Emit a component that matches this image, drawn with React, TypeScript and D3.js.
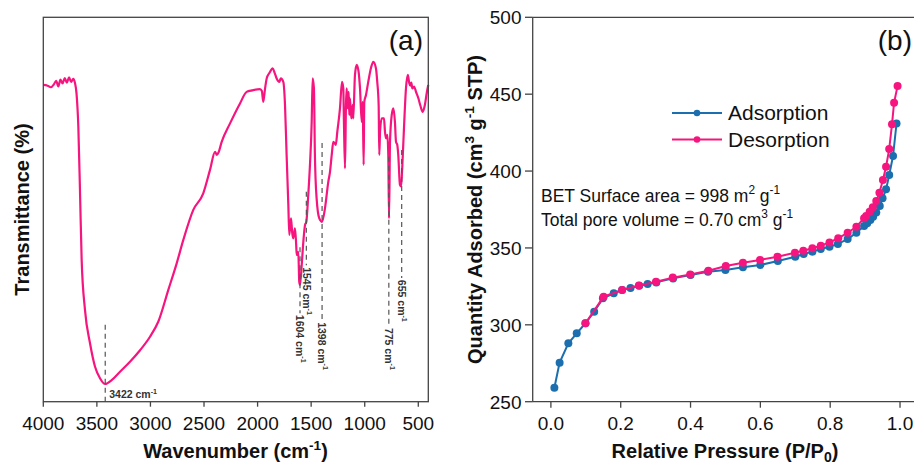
import React from "react";
import * as d3 from "d3";

// ---------- Panel (a): FTIR ----------
const ftirWavenumber = [
  4000, 3960, 3930, 3900, 3880, 3860, 3840, 3820, 3800, 3780, 3760, 3740, 3720, 3705, 3690, 3673, 3657, 3642, 3611, 3564,
  3517, 3471, 3422, 3362, 3284, 3191, 3097, 3004, 2927, 2833, 2755, 2693, 2600, 2507, 2444, 2397, 2380, 2365, 2335, 2257,
  2164, 2102, 2050, 1978, 1960, 1947, 1930, 1915, 1890, 1859, 1840, 1822, 1797, 1784, 1760, 1744, 1729, 1713, 1704, 1688,
  1677, 1667, 1651, 1640, 1635, 1620, 1611, 1604, 1588, 1573, 1557, 1545, 1527, 1511, 1495, 1486, 1474, 1465, 1449, 1424,
  1398, 1371, 1340, 1324, 1308, 1293, 1280, 1270, 1256, 1231, 1212, 1200, 1194, 1184, 1175, 1168, 1159, 1150, 1144, 1138,
  1125, 1112, 1107, 1091, 1075, 1057, 1044, 1028, 1019, 1010, 1004, 988, 967, 940, 920, 895, 883, 870, 864, 857,
  842, 820, 811, 801, 789, 780, 773, 764, 748, 733, 718, 708, 696, 687, 671, 660, 646, 631, 615, 598,
  585, 575, 565, 555, 540, 520, 500, 480, 459, 440, 420, 407,
];
const ftirTransmittance = [
  82.4, 82.2, 81.8, 82.6, 83.5, 82.0, 83.8, 82.8, 84.2, 83.0, 84.4, 83.2, 84.0, 83.0, 80.2, 71.5, 54.2, 36.9, 23.9, 15.2,
  9.1, 6.1, 4.6, 5.6, 7.8, 10.4, 13.4, 16.9, 20.8, 29.1, 36.0, 42.1, 49.9, 54.2, 60.3, 65.0, 64.2, 64.8, 67.6, 72.4,
  77.6, 80.6, 81.0, 81.3, 80.8, 78.0, 81.5, 84.1, 85.5, 86.7, 85.5, 84.1, 83.2, 84.1, 83.2, 77.2, 64.2, 51.2, 43.4, 47.7,
  44.0, 42.5, 45.1, 41.0, 38.2, 39.0, 31.2, 30.4, 35.6, 41.6, 46.0, 46.8, 53.8, 61.6, 72.8, 84.1, 81.5, 64.2, 52.9, 47.7,
  46.8, 50.3, 57.2, 59.8, 64.2, 67.6, 67.2, 66.8, 70.2, 76.3, 83.2, 81.5, 72.8, 60.7, 77.2, 81.5, 76.3, 80.6, 74.6, 78.9,
  73.7, 77.2, 73.7, 85.0, 87.6, 85.8, 81.5, 72.8, 78.0, 61.6, 78.0, 79.8, 83.2, 87.0, 88.4, 86.7, 83.2, 77.2, 64.2, 70.2,
  73.7, 73.7, 70.2, 68.5, 69.4, 64.2, 47.7, 67.6, 74.6, 76.3, 72.8, 67.6, 66.8, 64.2, 56.4, 56.0, 63.3, 72.8, 81.5, 85.0,
  83.0, 82.2, 83.0, 81.5, 82.0, 80.5, 79.0, 77.0, 75.4, 77.0, 80.5, 82.4,
];
const ftirTicks = [4000, 3500, 3000, 2500, 2000, 1500, 1000, 500];

const peakWavenumber = [3422, 1604, 1545, 1398, 775, 655];
const peakLabel = ["3422", "1604", "1545", "1398", "775", "655"];
const peakDashTop = [20, 40.2, 54.6, 67.3, 63.7, 65.5];
const peakDashBottom = [0, 23, 35.5, 21.2, 19.7, 32.2];
const peakLabelStart = [0, 22.6, 35.0, 20.7, 19.2, 31.7];

// ---------- Panel (b): N2 isotherm ----------
const adsP = [
  0.010, 0.025, 0.050, 0.074, 0.099, 0.124, 0.149, 0.180, 0.204, 0.228, 0.253, 0.277, 0.302, 0.350, 0.400, 0.450, 0.500,
  0.550, 0.600, 0.650, 0.700, 0.724, 0.749, 0.773, 0.798, 0.822, 0.850, 0.875, 0.897, 0.906, 0.915, 0.923, 0.932, 0.942,
  0.950, 0.960, 0.969, 0.980, 0.990,
];
const adsQ = [
  259.1, 275.4, 288.0, 294.5, 301.0, 308.5, 317.2, 320.5, 322.6, 324.0, 325.4, 326.5, 327.6, 330.2, 332.4, 334.5, 335.7,
  337.4, 338.9, 341.5, 344.3, 346.1, 347.6, 349.3, 350.8, 352.6, 355.8, 359.9, 364.3, 366.0, 368.2, 370.3, 373.0, 377.3,
  382.3, 388.1, 397.4, 409.8, 431.0,
];
const desP = [
  0.993, 0.983, 0.977, 0.969, 0.960, 0.951, 0.941, 0.932, 0.922, 0.913, 0.903, 0.897, 0.875, 0.850, 0.823, 0.798, 0.773,
  0.749, 0.723, 0.699, 0.649, 0.599, 0.550, 0.501, 0.451, 0.399, 0.349, 0.301, 0.252, 0.204, 0.151, 0.099,
];
const desQ = [
  455.3, 444.5, 430.4, 414.3, 402.8, 394.2, 385.9, 380.5, 376.4, 373.5, 370.8, 369.3, 363.8, 359.9, 356.3, 353.6, 351.5,
  349.8, 348.2, 346.9, 344.3, 342.2, 340.4, 338.3, 335.2, 332.8, 330.7, 328.0, 325.6, 322.6, 318.3, 301.0,
];
const pTicks = [0.0, 0.2, 0.4, 0.6, 0.8, 1.0];
const qTicks = [250, 300, 350, 400, 450, 500];
const seriesNames = ["Adsorption", "Desorption"];

const FONT = "'Liberation Sans', Arial, Helvetica, sans-serif";
const PINK = "#f6157f";
const BLUE = "#1c6fae";
const AXIS = "#444";

export default function App() {
  const top = 17.3;
  const bottom = 401.7;

  // panel a scales
  const xa = d3.scaleLinear().domain([4000, 406.6]).range([43.3, 428.3]);
  const ya = d3.scaleLinear().domain([0, 100]).range([bottom, top]);
  const ftirLine = d3
    .line<number>()
    .x((_, i) => xa(ftirWavenumber[i]))
    .y((d) => ya(d))
    .curve(d3.curveMonotoneX);

  // panel b scales
  const xb = d3.scaleLinear().domain([-0.0521, 1.0515]).range([532.7, 918]);
  const yb = d3.scaleLinear().domain([250, 500]).range([bottom, top]);
  const adsLine = d3
    .line<number>()
    .x((_, i) => xb(adsP[i]))
    .y((d) => yb(d));
  const desLine = d3
    .line<number>()
    .x((_, i) => xb(desP[i]))
    .y((d) => yb(d));

  const sup = (s: string, size: number) => (
    <tspan dy={-size * 0.42} fontSize={size * 0.68}>
      {s}
    </tspan>
  );
  const after = (size: number) => size * 0.42;

  return (
    <svg
      width={914}
      height={464}
      style={{ position: "absolute", left: 0, top: 0, display: "block", background: "#fff" }}
      fontFamily={FONT}
    >
      <rect x={0} y={0} width={914} height={464} fill="#fff" />

      {/* ---------------- Panel (a) ---------------- */}
      <path d={ftirLine(ftirTransmittance) || ""} fill="none" stroke={PINK} strokeWidth={2.2} strokeLinejoin="round" />

      {/* peak dashes */}
      {peakWavenumber.map((w, i) => (
        <line
          key={"pd" + i}
          x1={xa(w)}
          x2={xa(w)}
          y1={ya(peakDashTop[i])}
          y2={ya(peakDashBottom[i])}
          stroke="#555"
          strokeWidth={1.2}
          strokeDasharray="5,4"
        />
      ))}
      {/* peak labels */}
      {peakWavenumber.map((w, i) =>
        i === 0 ? (
          <text key={"pl" + i} x={xa(w) + 4} y={398} fontSize={10.5} fontWeight="bold" fill="#333">
            {peakLabel[i]} cm
            {sup("-1", 10.5)}
          </text>
        ) : (
          <text
            key={"pl" + i}
            transform={`translate(${xa(w)},${ya(peakLabelStart[i])}) rotate(90)`}
            x={0}
            y={0}
            dy="0.35em"
            fontSize={10.5}
            fontWeight="bold"
            fill="#333"
          >
            {peakLabel[i]} cm
            {sup("-1", 10.5)}
          </text>
        )
      )}

      {/* frame */}
      <rect x={43.3} y={top} width={428.3 - 43.3} height={bottom - top} fill="none" stroke={AXIS} strokeWidth={1.3} />
      {ftirTicks.map((t) => (
        <g key={"xt" + t}>
          <line x1={xa(t)} x2={xa(t)} y1={bottom} y2={bottom + 5} stroke={AXIS} strokeWidth={1.3} />
          <text x={xa(t)} y={429.5} fontSize={19} textAnchor="middle" fill="#111">
            {t}
          </text>
        </g>
      ))}
      <text x={235.5} y={458} fontSize={20} fontWeight="bold" textAnchor="middle" fill="#111">
        Wavenumber (cm{sup("-1", 20)}
        <tspan dy={after(20)}>)</tspan>
      </text>
      <text
        transform={`translate(29,${(top + bottom) / 2}) rotate(-90)`}
        fontSize={20}
        fontWeight="bold"
        textAnchor="middle"
        fill="#111"
      >
        Transmittance (%)
      </text>
      <text x={423} y={50} fontSize={28} textAnchor="end" fill="#111">
        (a)
      </text>

      {/* ---------------- Panel (b) ---------------- */}
      <path d={adsLine(adsQ) || ""} fill="none" stroke={BLUE} strokeWidth={2} />
      {adsQ.map((q, i) => (
        <circle key={"ac" + i} cx={xb(adsP[i])} cy={yb(q)} r={4} fill={BLUE} />
      ))}
      <path d={desLine(desQ) || ""} fill="none" stroke={PINK} strokeWidth={2} />
      {desQ.map((q, i) => (
        <circle key={"dc" + i} cx={xb(desP[i])} cy={yb(q)} r={4} fill={PINK} />
      ))}

      {/* axes */}
      <line x1={532.7} x2={914} y1={top} y2={top} stroke={AXIS} strokeWidth={1.3} />
      <line x1={532.7} x2={914} y1={bottom} y2={bottom} stroke={AXIS} strokeWidth={1.3} />
      <line x1={532.7} x2={532.7} y1={top} y2={bottom} stroke={AXIS} strokeWidth={1.3} />
      {qTicks.map((t) => (
        <g key={"yt" + t}>
          <line x1={525} x2={532.7} y1={yb(t)} y2={yb(t)} stroke={AXIS} strokeWidth={1.3} />
          <text x={521.5} y={yb(t)} dy="0.36em" fontSize={19} textAnchor="end" fill="#111">
            {t}
          </text>
        </g>
      ))}
      {pTicks.map((t) => (
        <g key={"bt" + t}>
          <line x1={xb(t)} x2={xb(t)} y1={bottom} y2={bottom + 6} stroke={AXIS} strokeWidth={1.3} />
          <text x={xb(t)} y={429.5} fontSize={19} textAnchor="middle" fill="#111">
            {t.toFixed(1)}
          </text>
        </g>
      ))}
      <text x={725} y={458} fontSize={20} fontWeight="bold" textAnchor="middle" fill="#111">
        Relative Pressure (P/P
        <tspan dy={4} fontSize={14}>
          0
        </tspan>
        <tspan dy={-4}>)</tspan>
      </text>
      <text
        transform={`translate(482,${(top + bottom) / 2}) rotate(-90)`}
        fontSize={20}
        fontWeight="bold"
        textAnchor="middle"
        fill="#111"
      >
        Quantity Adsorbed (cm{sup("3", 20)}
        <tspan dy={after(20)}> g</tspan>
        {sup("-1", 20)}
        <tspan dy={after(20)}> STP)</tspan>
      </text>
      <text x={912} y={50} fontSize={28} textAnchor="end" fill="#111">
        (b)
      </text>

      {/* legend */}
      {seriesNames.map((name, i) => {
        const ly = 113 + i * 26.5;
        const c = i === 0 ? BLUE : PINK;
        return (
          <g key={"lg" + i}>
            <line x1={672} x2={722} y1={ly} y2={ly} stroke={c} strokeWidth={2} />
            <circle cx={697} cy={ly} r={3.3} fill={c} />
            <text x={728} y={ly} dy="0.35em" fontSize={21} fill="#111">
              {name}
            </text>
          </g>
        );
      })}

      {/* annotations */}
      <text x={541} y={201.5} fontSize={17.5} fill="#111">
        BET Surface area = 998 m{sup("2", 17.5)}
        <tspan dy={after(17.5)}> g</tspan>
        {sup("-1", 17.5)}
      </text>
      <text x={541} y={225.5} fontSize={17.5} fill="#111">
        Total pore volume = 0.70 cm{sup("3", 17.5)}
        <tspan dy={after(17.5)}> g</tspan>
        {sup("-1", 17.5)}
      </text>
    </svg>
  );
}
